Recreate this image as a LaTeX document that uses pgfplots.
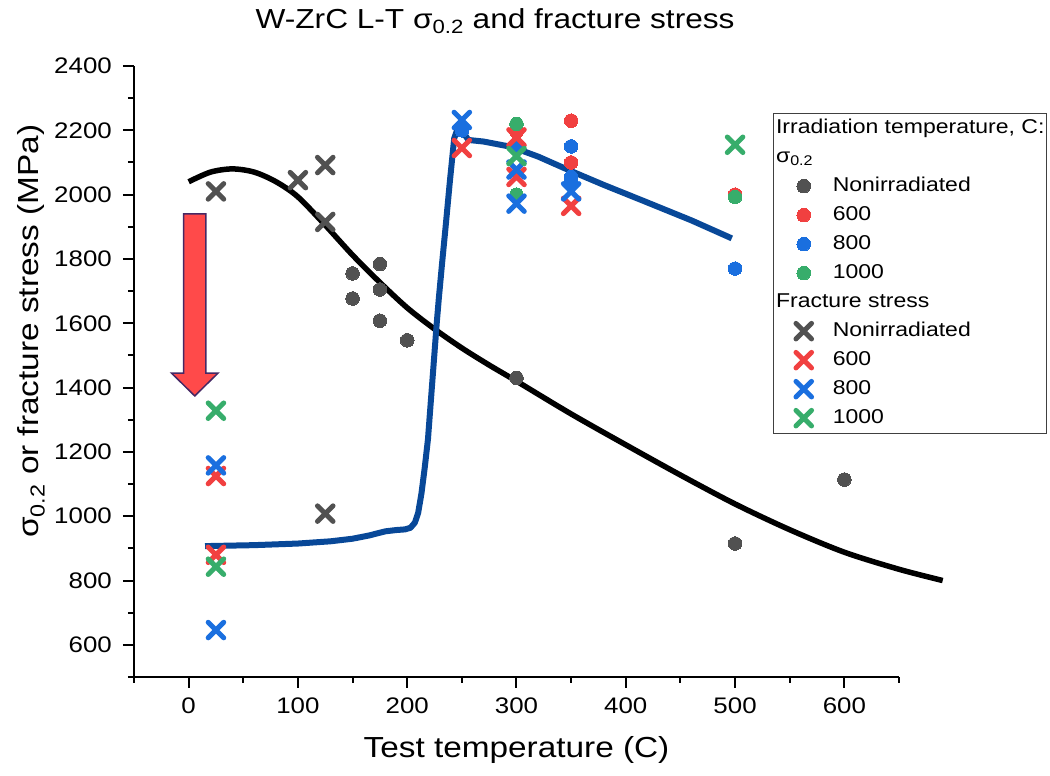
\documentclass[border=0pt]{standalone}
\usepackage{fontspec}
\setmainfont{Liberation Sans}[FakeStretch=1.15]
\usepackage{pgfplots}
\pgfplotsset{compat=1.18}
\definecolor{cgray}{HTML}{515151}
\definecolor{cred}{HTML}{F14040}
\definecolor{cblue}{HTML}{1A6FDF}
\definecolor{cgreen}{HTML}{37AD6B}
\definecolor{cnavy}{RGB}{8,72,152}
\definecolor{arrfill}{RGB}{255,74,74}
\definecolor{arrdraw}{RGB}{70,40,100}
\pgfplotsset{
  dotst/.style={only marks, color=#1, mark=*, mark size=6.8pt, mark options={draw=#1, fill=#1, line width=0pt}},
  crossst/.style={only marks, color=#1, mark=x, mark size=11pt, mark options={draw=#1, line width=5pt, line cap=round}},
}
\begin{document}
\begin{tikzpicture}
\begin{axis}[
  scale only axis, width=765pt, height=611pt,
  xmin=-50, xmax=650, ymin=500, ymax=2400,
  clip=false,
  axis x line*=bottom, axis y line*=left,
  axis line style={line width=2.2pt, -, black},
  tick align=outside,
  xtick={0,100,...,600}, minor xtick={-50,50,...,650},
  ytick={600,800,...,2400}, minor ytick={500,700,...,2300},
  major tick length=11pt, minor tick length=6pt,
  every tick/.style={line width=2pt, black},
  /pgf/number format/assume math mode=true,
  /pgf/number format/1000 sep={},
  ticklabel style={font=\fontsize{22.5}{26}\selectfont, inner sep=0pt},
  xticklabel shift=10pt, yticklabel shift=11pt,
  title={W-ZrC L-T σ\textsubscript{0.2} and fracture stress},
  title style={font=\fontsize{27.5}{32}\selectfont, at={(0.472,1)}, anchor=base, yshift=31.5pt},
  xlabel={Test temperature (C)},
  xlabel style={font=\fontsize{29}{34}\selectfont, at={(0.50,0)}, anchor=base, yshift=-81pt},
  ylabel={σ\textsubscript{0.2} or fracture stress (MPa)},
  ylabel style={font=\fontsize{29}{34}\selectfont, at={(-0.1242,0.566)}, anchor=base},
  legend image code/.code={\path[draw=none,fill=none] (0pt,-4pt) rectangle (44pt,4pt); \draw[mark repeat=1,#1] plot coordinates {(28pt,0pt)};},
  legend cell align=left,
  legend style={at={(1.1935,0.9236)}, anchor=north east, draw=black!75, line width=1pt,
    font=\fontsize{20}{24}\selectfont, inner xsep=2pt, inner ysep=4pt,
    row sep=7pt, column sep=13pt,
    nodes={inner sep=0pt, text height=16pt, text depth=6pt}},
]
\addlegendimage{empty legend}
\addlegendentry{\hspace*{-56.7pt}Irradiation temperature, C:}
\addlegendimage{empty legend}
\addlegendentry{\makebox[10pt][l]{\hspace*{-56.7pt}σ\textsubscript{0.2}}}
% sigma 0.2
\addplot[dotst=cgray] coordinates {(150,1755) (150,1677) (175,1784) (175,1705) (175,1608) (200,1547) (300,1430) (500,915) (600,1114)};
\addlegendentry{Nonirradiated}
\addplot[dotst=cred] coordinates {(300,2195) (350,2230) (350,2100) (500,2000)};
\addlegendentry{600}
\addplot[dotst=cblue] coordinates {(250,2200) (300,2150) (350,2150) (350,2055) (350,2040) (500,1770)};
\addlegendentry{800}
\addplot[dotst=cgreen] coordinates {(300,2220) (300,2000) (500,1993)};
\addlegendentry{1000}
\addlegendimage{empty legend}
\addlegendentry{\hspace*{-56.7pt}Fracture stress}
% fracture stress
\addplot[crossst=cgray] coordinates {(25,2010) (100,2045) (125,2092) (125,1915) (125,1008)};
\addlegendentry{Nonirradiated}
\addplot[crossst=cred] coordinates {(25,1125) (25,880) (250,2145) (300,2178) (300,2055) (350,1965)};
\addlegendentry{600}
\addplot[crossst=cblue] coordinates {(25,1158) (25,646) (250,2232) (300,2078) (300,1972) (350,2010)};
\addlegendentry{800}
\addplot[crossst=cgreen] coordinates {(25,1328) (25,843) (300,2120) (500,2155)};
\addlegendentry{1000}
% fitted curves
\addplot[forget plot, smooth, black, line width=5.5pt] coordinates {
(0,2040) (20,2070) (40,2080) (60,2070) (80,2040) (100,1993) (125,1905) (150,1812) (175,1727) (200,1648) (225,1582) (250,1523) (275,1470) (300,1420) (350,1318) (400,1222) (450,1128) (500,1038) (550,958) (600,888) (650,835) (690,800)};
\addplot[forget plot, cnavy, line width=6pt, line join=round] coordinates {
(15,907) (60,910) (100,915) (130,922) (150,930) (165,940) (180,953) (190,957) (198,959) (203,964) (207,980) (210,1010) (213,1070) (216,1150) (219,1240) (221,1330) (223,1420) (225,1510) (227,1600) (229,1680) (232,1790) (235,1895) (239,2040) (243,2175) (247,2214) (256,2170) (270,2165) (296,2148) (320,2118) (348,2076) (380,2030) (418,1978) (460,1920) (497,1864)};
% arrow annotation
\filldraw[fill=arrfill, draw=arrdraw, line width=1.5pt, line join=miter]
  (axis cs:-4.6,1940) -- (axis cs:15.8,1940) -- (axis cs:15.8,1445) -- (axis cs:26.9,1445)
  -- (axis cs:5.6,1374) -- (axis cs:-15.7,1445) -- (axis cs:-4.6,1445) -- cycle;
\end{axis}
\pgfresetboundingbox
\path (current axis.south west) ++(-134pt,-99pt) rectangle ++(1050pt,776pt);
\end{tikzpicture}
\end{document}
